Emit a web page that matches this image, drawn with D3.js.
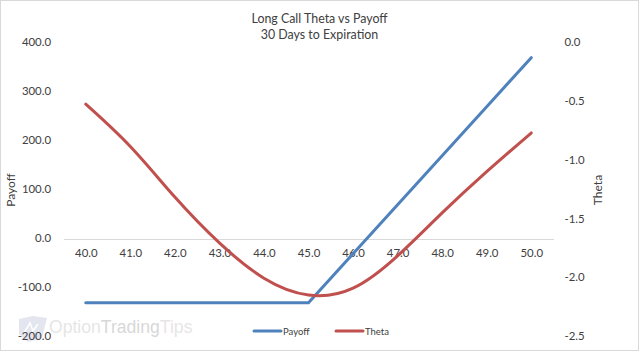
<html>
<head>
<meta charset="utf-8">
<style>
  html, body { margin: 0; padding: 0; background: #fff; }
  svg { display: block; }
  text { font-family: Lato, "Open Sans", sans-serif; fill: #404040; }
</style>
</head>
<body>
<script src="https://cdn.jsdelivr.net/npm/d3@7/dist/d3.min.js"></script>
<script>
var titleLines = ["Long Call Theta vs Payoff", "30 Days to Expiration"];
var xTicks = [40, 41, 42, 43, 44, 45, 46, 47, 48, 49, 50];
var payoffValue = [-130, -130, -130, -130, -130, -130, -30, 70, 170, 270, 370];
var thetaValue = [-0.52, -0.88, -1.31, -1.70, -2.00, -2.143, -2.085, -1.81, -1.445, -1.094, -0.765];
var leftTicks = [400, 300, 200, 100, 0, -100, -200];
var rightTicks = [0, -0.5, -1, -1.5, -2, -2.5];

var width = 640, height = 352;
var svg = d3.select("body").append("svg").attr("width", width).attr("height", height);

svg.append("rect").attr("x", 0.5).attr("y", 0.5).attr("width", width - 2).attr("height", height - 2)
    .attr("fill", "#fff").attr("stroke", "#d9d9d9");

// watermark, sits under everything
var wm = svg.append("g");
wm.append("path").attr("d", "M19 319 L33 316 L47 318 L42 338 L28 342 L19 334 Z").attr("fill", "#e3e5ef");
wm.append("path").attr("d", "M24 333 L30 323 L33 331 L38 324").attr("fill", "none").attr("stroke", "#fff").attr("stroke-width", 1.5);
var wmText = wm.append("text").attr("x", 49).attr("y", 333).attr("font-size", 17.6)
    .style("font-family", "'Liberation Sans', sans-serif").style("fill", "#e6e6e6");
wmText.append("tspan").text("Option");
wmText.append("tspan").style("fill", "#d8d8d8").text("Trading");
wmText.append("tspan").text("Tips");

var x = d3.scaleLinear().domain([39.5, 50.5]).range([63.5, 553.5]);
var yLeft = d3.scaleLinear().domain([-200, 400]).range([337, 43]);
var yRight = d3.scaleLinear().domain([-2.5, 0]).range([337, 43]);

// excel style labels, plain hyphen for the minus
var fmt = function(d) { return d3.format(".1f")(d).replace("\u2212", "-"); };

var xAxis = svg.append("g").attr("transform", "translate(0," + yLeft(0) + ")")
    .call(d3.axisBottom(x).tickValues(xTicks).tickSize(0).tickPadding(10).tickFormat(fmt));
xAxis.select(".domain").attr("stroke", "#d9d9d9");

var leftAxis = svg.append("g").attr("transform", "translate(63.5,-1)")
    .call(d3.axisLeft(yLeft).tickValues(leftTicks).tickSize(0).tickPadding(12.5).tickFormat(fmt));
leftAxis.select(".domain").remove();

var rightAxis = svg.append("g").attr("transform", "translate(553.5,-1)")
    .call(d3.axisRight(yRight).tickValues(rightTicks).tickSize(0).tickPadding(11).tickFormat(fmt));
rightAxis.select(".domain").remove();

svg.selectAll(".tick text").attr("font-size", 11.4).style("font-family", "Lato, sans-serif");

var payoffLine = d3.line().x(function(d, i) { return x(xTicks[i]); }).y(function(d) { return yLeft(d); });
var thetaLine = d3.line().x(function(d, i) { return x(xTicks[i]); }).y(function(d) { return yRight(d); })
    .curve(d3.curveNatural);

svg.append("path").datum(payoffValue).attr("d", payoffLine)
    .attr("fill", "none").attr("stroke", "#4f81bd").attr("stroke-width", 3).attr("stroke-linecap", "round");
svg.append("path").datum(thetaValue).attr("d", thetaLine)
    .attr("fill", "none").attr("stroke", "#c0504d").attr("stroke-width", 3).attr("stroke-linecap", "round");

svg.selectAll("text.title").data(titleLines).join("text").attr("class", "title")
    .attr("x", 319.5).attr("y", function(d, i) { return 23 + i * 16; })
    .attr("text-anchor", "middle").attr("font-size", 12.4).text(function(d) { return d; });

svg.append("text").attr("transform", "translate(15,190) rotate(-90)").attr("text-anchor", "middle")
    .attr("font-size", 12).text("Payoff");
svg.append("text").attr("transform", "translate(602,190) rotate(-90)").attr("text-anchor", "middle")
    .attr("font-size", 12).text("Theta");

var legend = svg.selectAll("g.legend").data([
    { name: "Payoff", color: "#4f81bd", x: 254 },
    { name: "Theta", color: "#c0504d", x: 336 }
]).join("g").attr("class", "legend").attr("transform", function(d) { return "translate(" + d.x + ",331)"; });
legend.append("line").attr("x1", 0).attr("x2", 27).attr("stroke", function(d) { return d.color; })
    .attr("stroke-width", 3).attr("stroke-linecap", "round");
legend.append("text").attr("x", 29).attr("y", 4).attr("font-size", 9.5)
    .text(function(d) { return d.name; });
</script>
</body>
</html>
